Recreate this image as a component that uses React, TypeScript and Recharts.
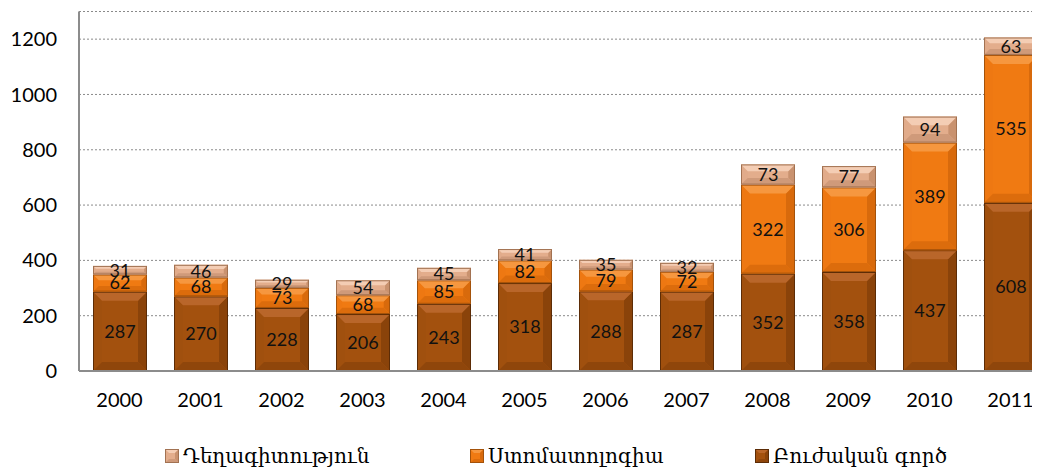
import React from "react";
import { BarChart, Bar, XAxis, YAxis, CartesianGrid, LabelList } from "recharts";

const years = ["2000", "2001", "2002", "2003", "2004", "2005", "2006", "2007", "2008", "2009", "2010", "2011"];
const medical = [287, 270, 228, 206, 243, 318, 288, 287, 352, 358, 437, 608];
const dental = [62, 68, 73, 68, 85, 82, 79, 72, 322, 306, 389, 535];
const pharmacy = [31, 46, 29, 54, 45, 41, 35, 32, 73, 77, 94, 63];
const yTicks = [0, 200, 400, 600, 800, 1000, 1200];

const seriesNames = {
  medical: "Բուժական գործ",
  dental: "Ստոմատոլոգիա",
  pharmacy: "Դեղագիտություն",
};

const palettes: Record<string, { base: string; light: string; dark: string; left: string; right: string; stroke: string }> = {
  medical: { base: "#A3510E", light: "#B9662A", dark: "#8F460B", left: "#A0500E", right: "#8A430A", stroke: "#5C2C06" },
  dental: { base: "#F07A12", light: "#F6973F", dark: "#DC6C0C", left: "#EE7812", right: "#D86A0C", stroke: "#A4520A" },
  pharmacy: { base: "#E3AD8C", light: "#F4CDB4", dark: "#CF9A7A", left: "#E1AB8A", right: "#C9926F", stroke: "#A27252" },
};

const data = years.map((y, i) => ({
  year: y,
  medical: medical[i],
  dental: dental[i],
  pharmacy: pharmacy[i],
}));

const makeShape = (key: string) => (props: any) => {
  const { x, y, width, height } = props;
  if (!height || height <= 0) return null;
  const p = palettes[key];
  const b = Math.min(9, height / 3, width / 4);
  const x2 = x + width;
  const y2 = y + height;
  return (
    <g>
      <rect x={x} y={y} width={width} height={height} fill={p.base} />
      <polygon points={`${x},${y} ${x + b},${y + b} ${x + b},${y2 - b} ${x},${y2}`} fill={p.left} />
      <polygon points={`${x2},${y} ${x2 - b},${y + b} ${x2 - b},${y2 - b} ${x2},${y2}`} fill={p.right} />
      <polygon points={`${x},${y2} ${x2},${y2} ${x2 - b},${y2 - b} ${x + b},${y2 - b}`} fill={p.dark} />
      <polygon points={`${x},${y} ${x2},${y} ${x2 - b},${y + b} ${x + b},${y + b}`} fill={p.light} />
      <rect x={x + 0.5} y={y + 0.5} width={width - 1} height={height - 1} fill="none" stroke={p.stroke} strokeWidth={1} />
    </g>
  );
};

const LegendSwatch = ({ k }: { k: string }) => {
  const p = palettes[k];
  return (
    <svg width={14} height={14} style={{ display: "block" }}>
      <rect x={0} y={0} width={14} height={14} fill={p.base} />
      <polygon points="0,0 14,0 10,4 4,4" fill={p.light} />
      <polygon points="0,14 14,14 10,10 4,10" fill={p.dark} />
      <polygon points="14,0 10,4 10,10 14,14" fill={p.right} />
      <rect x={0.5} y={0.5} width={13} height={13} fill="none" stroke={p.stroke} strokeWidth={1} />
    </svg>
  );
};

const legendItems = [
  { k: "pharmacy", left: 165 },
  { k: "dental", left: 470 },
  { k: "medical", left: 755 },
];

const font = "Lato, 'Open Sans', sans-serif";

export default function App() {
  return (
    <div style={{ position: "relative", marginLeft: -8, marginTop: -8, width: 1040, height: 469, overflow: "hidden", background: "#fff" }}>
      <BarChart
        width={1051}
        height={411}
        data={data}
        margin={{ top: 11.5, right: 0, left: 0, bottom: 0 }}
        barSize={54}
      >
        <CartesianGrid vertical={false} stroke="#8a8a8a" strokeDasharray="2 2" />
        <XAxis
          dataKey="year"
          height={40}
          tickLine={false}
          tickSize={0}
          tickMargin={22}
          axisLine={{ stroke: "#8c8c8c", strokeWidth: 2 }}
          tick={{ fill: "#000", fontSize: 20, fontFamily: font }}
        />
        <YAxis
          width={79}
          domain={[0, 1300]}
          ticks={yTicks}
          interval={0}
          tickLine={false}
          tickSize={0}
          tickMargin={22}
          axisLine={{ stroke: "#8c8c8c", strokeWidth: 2 }}
          tick={{ fill: "#000", fontSize: 20, fontFamily: font }}
        />
        {(["medical", "dental", "pharmacy"] as const).map((k) => (
          <Bar
            key={k}
            dataKey={k}
            name={seriesNames[k]}
            stackId="a"
            fill={palettes[k].base}
            shape={makeShape(k)}
            isAnimationActive={false}
          >
            <LabelList
              dataKey={k}
              position="center"
              style={{ fill: "#111", fontSize: 18, fontFamily: font }}
            />
          </Bar>
        ))}
      </BarChart>
      {legendItems.map((it) => (
        <div
          key={it.k}
          style={{
            position: "absolute",
            left: it.left,
            top: 444,
            display: "flex",
            alignItems: "center",
            gap: 4,
            fontFamily: "'DejaVu Serif', serif",
            fontSize: 20,
            color: "#000",
            whiteSpace: "nowrap",
            lineHeight: "24px",
          }}
        >
          <LegendSwatch k={it.k} />
          <span>{seriesNames[it.k as keyof typeof seriesNames]}</span>
        </div>
      ))}
    </div>
  );
}
